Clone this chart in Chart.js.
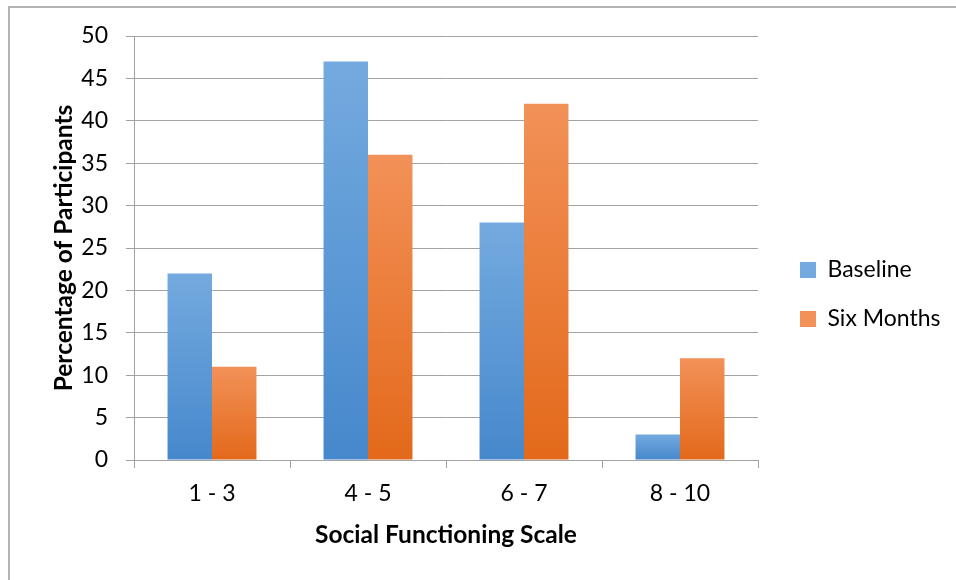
<!DOCTYPE html>
<html>
<head>
<meta charset="utf-8">
<script src="https://cdn.jsdelivr.net/npm/chart.js@4.4.1/dist/chart.umd.min.js"></script>
<style>
    body { margin: 0; background: #fff; }
    #moldura { position: absolute; left: 8px; top: 6px; width: 970px; height: 600px; border-left: 2px solid #b3b3b3; border-top: 2px solid #b3b3b3; }
    #grafico { position: absolute; left: 0; top: 0; }
</style>
</head>
<body>
<div id="moldura"></div>
<canvas id="grafico" width="956" height="580"></canvas>
<script>
// dados do grafico
var categorias = ['1 - 3', '4 - 5', '6 - 7', '8 - 10'];
var valoresBaseline = [22, 47, 28, 3];
var valoresSeisMeses = [11, 36, 42, 12];
var nomesSeries = ['Baseline', 'Six Months'];
var eixoY = { min: 0, max: 50, passo: 5 };

var fonte = 'Lato, "Open Sans", sans-serif';
var corGrade = '#a3a3a3';

// gradiente por barra (mais claro em cima)
function gradienteBarra(corTopo, corBase, corMedia) {
    return function(context) {
        var chart = context.chart;
        if (context.type !== 'data' || !chart.chartArea) return corMedia;
        var y = chart.scales.y;
        var topo = y.getPixelForValue(context.raw);
        var base = y.getPixelForValue(0);
        var g = chart.ctx.createLinearGradient(0, topo, 0, base);
        g.addColorStop(0, corTopo);
        g.addColorStop(1, corBase);
        return g;
    };
}

var ctx = document.getElementById('grafico').getContext('2d');

var grafico = new Chart(ctx, {
    type: 'bar',
    data: {
        labels: categorias,
        datasets: [{
            label: nomesSeries[0],
            data: valoresBaseline,
            backgroundColor: gradienteBarra('#74aadf', '#4688cc', '#5b9bd5'),
            borderWidth: 0,
            categoryPercentage: 0.57,
            barPercentage: 1
        }, {
            label: nomesSeries[1],
            data: valoresSeisMeses,
            backgroundColor: gradienteBarra('#f29158', '#e3691a', '#ed7d31'),
            borderWidth: 0,
            categoryPercentage: 0.57,
            barPercentage: 1
        }]
    },
    options: {
        responsive: false,
        animation: false,
        devicePixelRatio: 1,
        layout: {
            padding: { left: 0, right: 6, top: 36, bottom: 27 }
        },
        scales: {
            x: {
                grid: {
                    drawOnChartArea: false,
                    drawTicks: true,
                    tickLength: 8,
                    color: corGrade
                },
                border: { color: corGrade, width: 1 },
                ticks: {
                    color: '#000',
                    padding: 12,
                    font: { family: fonte, size: 23 }
                },
                title: {
                    display: true,
                    text: 'Social Functioning Scale',
                    color: '#000',
                    font: { family: fonte, size: 24.5, weight: 'bold' },
                    padding: { top: 0, bottom: 3 }
                },
                afterFit: function(scale) { scale.height = 93; }
            },
            y: {
                min: eixoY.min,
                max: eixoY.max,
                grid: {
                    color: corGrade,
                    tickLength: 8
                },
                border: { color: corGrade, width: 1 },
                ticks: {
                    stepSize: eixoY.passo,
                    color: '#000',
                    padding: 18,
                    font: { family: fonte, size: 23 }
                },
                title: {
                    display: true,
                    text: 'Percentage of Participants',
                    color: '#000',
                    font: { family: fonte, size: 24.5, weight: 'bold' },
                    padding: { top: 49, bottom: 0 }
                },
                afterFit: function(scale) { scale.width = 134; }
            },
            // eixo vazio so para afastar a legenda do grafico
            y2: {
                position: 'right',
                display: true,
                grid: { display: false, drawTicks: false },
                ticks: { display: false },
                border: { display: false },
                afterFit: function(scale) { scale.width = 16; }
            }
        },
        plugins: {
            legend: {
                position: 'right',
                align: 'center',
                maxWidth: 176,
                labels: {
                    boxWidth: 16,
                    boxHeight: 16,
                    padding: 26,
                    color: '#000',
                    font: { family: fonte, size: 23 }
                }
            },
            tooltip: { enabled: false }
        }
    }
});
</script>
</body>
</html>
